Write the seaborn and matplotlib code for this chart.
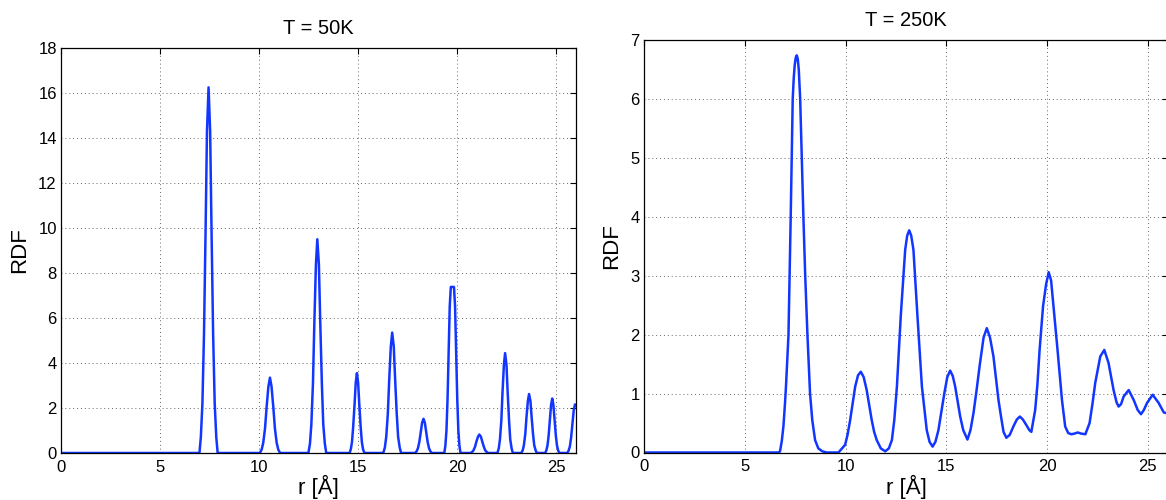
import numpy as np
import pandas as pd
import matplotlib
matplotlib.use("Agg")
import matplotlib.pyplot as plt
import seaborn as sns

sns.set_theme(style="white")
plt.rcParams['font.family'] = ['Liberation Sans', 'DejaVu Sans']
plt.rcParams['text.color'] = 'black'
plt.rcParams['axes.labelcolor'] = 'black'

# ---------------------------------------------------------
# RDF values, T = 50K (one row per peak)
# ---------------------------------------------------------
r_50 = [0.0,
        6.99, 7.06, 7.14, 7.22, 7.30, 7.37, 7.45, 7.53, 7.60, 7.68, 7.76, 7.84, 7.91,
        10.04, 10.13, 10.21, 10.30, 10.38, 10.47, 10.55, 10.63, 10.72, 10.80, 10.89, 10.97, 11.06,
        12.49, 12.57, 12.64, 12.72, 12.79, 12.87, 12.94, 13.02, 13.09, 13.17, 13.24, 13.32, 13.39,
        14.57, 14.63, 14.69, 14.75, 14.82, 14.88, 14.94, 15.00, 15.06, 15.13, 15.19, 15.25, 15.32,
        16.27, 16.35, 16.42, 16.50, 16.57, 16.65, 16.72, 16.80, 16.87, 16.95, 17.02, 17.10, 17.17,
        17.88, 17.95, 18.02, 18.09, 18.16, 18.23, 18.30, 18.37, 18.44, 18.51, 18.58, 18.65, 18.72,
        19.35, 19.405, 19.46, 19.515, 19.57, 19.625, 19.68, 19.84, 19.895, 19.95, 20.005, 20.06, 20.115, 20.17,
        20.67, 20.75, 20.82, 20.90, 20.97, 21.05, 21.12, 21.20, 21.27, 21.35, 21.42, 21.50, 21.57,
        22.03, 22.10, 22.16, 22.23, 22.29, 22.36, 22.42, 22.49, 22.55, 22.62, 22.68, 22.75, 22.81,
        23.24, 23.31, 23.37, 23.44, 23.50, 23.57, 23.63, 23.70, 23.76, 23.83, 23.89, 23.96, 24.02,
        24.44, 24.50, 24.56, 24.62, 24.68, 24.74, 24.80, 24.86, 24.92, 24.98, 25.04, 25.10, 25.16,
        25.56, 25.625, 25.69, 25.755, 25.82, 25.885, 25.95, 26.0]
g_50 = [0.0,
        0, 0.7, 2.2, 5.3, 9.9, 14.3, 16.25, 14.3, 9.9, 5.3, 2.2, 0.7, 0,
        0, 0.15, 0.45, 1.09, 2.03, 2.95, 3.35, 2.95, 2.03, 1.09, 0.45, 0.15, 0,
        0, 0.42, 1.28, 3.09, 5.77, 8.38, 9.5, 8.38, 5.77, 3.09, 1.28, 0.42, 0,
        0, 0.16, 0.48, 1.15, 2.15, 3.13, 3.55, 3.13, 2.15, 1.15, 0.48, 0.16, 0,
        0, 0.24, 0.72, 1.74, 3.25, 4.72, 5.35, 4.72, 3.25, 1.74, 0.72, 0.24, 0,
        0, 0.07, 0.21, 0.49, 0.92, 1.34, 1.52, 1.34, 0.92, 0.49, 0.21, 0.07, 0,
        0, 0.32, 1.0, 2.4, 4.48, 6.51, 7.38, 7.38, 6.51, 4.48, 2.4, 1.0, 0.32, 0,
        0, 0.04, 0.11, 0.27, 0.5, 0.72, 0.82, 0.72, 0.5, 0.27, 0.11, 0.04, 0,
        0, 0.2, 0.6, 1.44, 2.7, 3.92, 4.44, 3.92, 2.7, 1.44, 0.6, 0.2, 0,
        0, 0.12, 0.35, 0.85, 1.59, 2.31, 2.62, 2.31, 1.59, 0.85, 0.35, 0.12, 0,
        0, 0.11, 0.33, 0.79, 1.47, 2.13, 2.42, 2.13, 1.47, 0.79, 0.33, 0.11, 0,
        0, 0.1, 0.29, 0.7, 1.31, 1.9, 2.16, 2.1]

# ---------------------------------------------------------
# RDF values, T = 250K
# ---------------------------------------------------------
r_250 = [0.0, 6.68, 6.75, 6.84, 6.92, 7.0, 7.05, 7.1, 7.17, 7.28, 7.38, 7.43, 7.48, 7.53,
         7.58, 7.63, 7.68, 7.75, 7.83, 7.91, 8.0, 8.11, 8.24, 8.35, 8.49, 8.65, 8.85,
         9.07, 9.65,
         9.98, 10.1, 10.23, 10.35, 10.48, 10.62, 10.76, 10.9, 11.05, 11.18, 11.3, 11.42,
         11.55, 11.75, 11.97,
         12.15, 12.3, 12.42, 12.55, 12.74, 12.96, 13.06, 13.16, 13.26, 13.37, 13.57, 13.79,
         14.03, 14.17, 14.32,
         14.46, 14.61, 14.75, 14.9, 15.05, 15.19, 15.32, 15.44, 15.69, 15.84, 16.05,
         16.2, 16.35, 16.5, 16.65, 16.85, 17.01, 17.17, 17.34, 17.59, 17.72, 17.84, 17.98,
         18.15, 18.34, 18.5, 18.65, 18.8, 19.0, 19.12, 19.22,
         19.41, 19.52, 19.63, 19.8, 19.95, 20.08, 20.2, 20.32, 20.52, 20.74, 20.9, 21.05,
         21.2, 21.35, 21.52, 21.7, 21.9,
         22.11, 22.25, 22.39, 22.64, 22.84, 23.05, 23.3, 23.45, 23.55, 23.67, 23.8, 24.05,
         24.3, 24.5, 24.66, 24.8, 24.96, 25.24, 25.54, 25.79, 26.0]
g_250 = [0.0, 0.0, 0.02, 0.2, 0.45, 0.85, 1.15, 1.5, 2.0, 4.0, 6.0, 6.35, 6.58, 6.7,
         6.74, 6.68, 6.5, 6.0, 5.0, 4.0, 3.0, 2.0, 1.0, 0.55, 0.21, 0.07, 0.02,
         0.0, 0.0,
         0.13, 0.3, 0.55, 0.82, 1.12, 1.31, 1.37, 1.28, 1.06, 0.8, 0.55, 0.35,
         0.21, 0.07, 0.02,
         0.07, 0.21, 0.55, 1.12, 2.31, 3.44, 3.68, 3.77, 3.68, 3.44, 2.31, 1.12,
         0.38, 0.18, 0.1,
         0.18, 0.38, 0.68, 1.0, 1.28, 1.39, 1.3, 1.12, 0.61, 0.38, 0.22,
         0.38, 0.67, 1.05, 1.46, 1.95, 2.11, 1.95, 1.63, 0.89, 0.6, 0.35, 0.25,
         0.3, 0.45, 0.56, 0.61, 0.56, 0.45, 0.38, 0.35,
         0.72, 1.15, 1.74, 2.48, 2.85, 3.06, 2.92, 2.48, 1.74, 0.89, 0.44, 0.33,
         0.31, 0.32, 0.34, 0.32, 0.31,
         0.5, 0.82, 1.18, 1.63, 1.74, 1.52, 1.06, 0.85, 0.78, 0.82, 0.95, 1.06,
         0.89, 0.72, 0.65, 0.72, 0.84, 0.98, 0.84, 0.68, 0.66]

titles = ['T = 50K', 'T = 250K']
y_maxes = [18, 7]
y_steps = [2, 1]
x_ticks = [0, 5, 10, 15, 20, 25]

line_color = '#1236ff'

fig = plt.figure(figsize=(11.66, 5.0), dpi=100)
ax1 = fig.add_axes([0.0523, 0.094, 0.4417, 0.81])
ax2 = fig.add_axes([0.5523, 0.095, 0.4494, 0.825])

panels = [(ax1, r_50, g_50), (ax2, r_250, g_250)]
for i, (ax, r, g) in enumerate(panels):
    df = pd.DataFrame({'r': r, 'g': g})
    sns.lineplot(data=df, x='r', y='g', ax=ax, color=line_color,
                 linewidth=1.8, estimator=None, sort=False)
    ax.set_xlim(0, 26)
    ax.set_ylim(0, y_maxes[i])
    ax.set_xticks(x_ticks)
    ax.set_yticks(np.arange(0, y_maxes[i] + 1, y_steps[i]))
    ax.grid(True, color='0.4', linestyle=(0, (1, 3)), linewidth=0.7)
    ax.tick_params(direction='in', length=4, width=0.8, top=True, right=True,
                   labelsize=12, colors='black')
    ax.tick_params(axis='x', pad=5)
    ax.tick_params(axis='y', pad=3)
    for sp in ax.spines.values():
        sp.set_color('black')
        sp.set_linewidth(0.9)
    ax.set_title(titles[i], fontsize=14.5, pad=10, color='black')
    ax.set_xlabel('r [Å]', fontsize=16, labelpad=0)
    ax.set_ylabel('RDF', fontsize=16, labelpad=6)

fig.savefig('out.png', dpi=100)
